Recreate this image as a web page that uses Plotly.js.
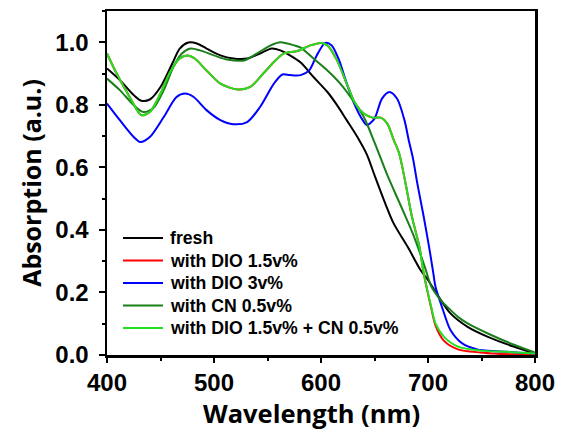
<!DOCTYPE html>
<html>
<head>
<meta charset="utf-8">
<script src="https://cdn.plot.ly/plotly-3.0.1.min.js"></script>
<style>html,body{margin:0;padding:0;background:#fff;}#chart{width:566px;height:429px;}</style>
</head>
<body>
<div id="chart"></div>
<script>
// Series names
const seriesNames = ["fresh", "with DIO 1.5v%", "with DIO 3v%", "with CN 0.5v%", "with DIO 1.5v% + CN 0.5v%"];

// fresh (black)
const wlFresh = [400,412,425,432,440,450,461,468,476,484,493,506,518,531,543,554,562,571,581,593,606,615,624,634,643,650,660,668,681,693,700,710,721,737,756,780,800];
const absFresh = [0.916,0.879,0.831,0.813,0.817,0.857,0.932,0.980,0.999,0.996,0.980,0.958,0.948,0.948,0.964,0.980,0.974,0.958,0.935,0.889,0.841,0.799,0.751,0.697,0.640,0.575,0.485,0.420,0.346,0.272,0.240,0.186,0.133,0.090,0.058,0.027,0.005];

// with DIO 1.5v% (red)
const wlDio15 = [400,409,422,432,440,450,459,468,475,482,493,506,522,534,546,556,565,578,590,600,606,615,624,632,640,648,656,662,668,673,679,685,692,696,703,707,715,728,749,765,780,800];
const absDio15 = [0.964,0.900,0.820,0.767,0.777,0.836,0.905,0.948,0.958,0.948,0.910,0.868,0.849,0.857,0.900,0.937,0.964,0.972,0.990,0.998,0.990,0.942,0.868,0.804,0.772,0.759,0.759,0.740,0.687,0.645,0.549,0.442,0.346,0.261,0.150,0.095,0.045,0.018,0.008,0.004,0.002,0.001];

// with DIO 3v% (blue)
const wlDio3 = [400,412,425,431,440,453,465,473,481,493,506,518,531,543,556,564,571,581,589,596,604,610,617,623,631,639,643,650,657,664,671,678,682,686,690,696,701,705,707,714,721,732,746,765,800];
const absDio3 = [0.804,0.751,0.697,0.681,0.697,0.761,0.825,0.836,0.825,0.783,0.751,0.738,0.745,0.793,0.868,0.897,0.895,0.895,0.910,0.958,0.998,0.990,0.942,0.879,0.804,0.751,0.735,0.756,0.820,0.841,0.820,0.751,0.687,0.628,0.549,0.442,0.346,0.261,0.218,0.144,0.080,0.037,0.018,0.012,0.005];

// with CN 0.5v% (dark green)
const wlCn = [400,412,425,434,443,453,462,470,478,487,500,512,528,540,553,562,575,581,593,606,618,631,640,650,662,675,687,697,703,712,718,728,737,759,781,800];
const absCn = [0.884,0.847,0.799,0.777,0.788,0.847,0.921,0.964,0.980,0.974,0.958,0.945,0.942,0.964,0.990,1.000,0.990,0.983,0.948,0.910,0.868,0.809,0.761,0.680,0.575,0.474,0.378,0.282,0.220,0.175,0.154,0.122,0.101,0.064,0.032,0.008];

// with DIO 1.5v% + CN 0.5v% (light green)
const wlDioCn = [400,409,422,432,440,450,459,468,475,482,493,506,522,534,546,556,565,578,590,600,606,615,624,632,640,648,656,662,668,673,679,685,692,696,703,707,715,728,749,774,800];
const absDioCn = [0.964,0.900,0.820,0.767,0.777,0.836,0.905,0.948,0.958,0.948,0.910,0.868,0.849,0.857,0.900,0.937,0.964,0.972,0.990,0.998,0.990,0.942,0.868,0.804,0.772,0.759,0.759,0.740,0.687,0.645,0.549,0.442,0.346,0.261,0.154,0.101,0.058,0.027,0.014,0.010,0.005];

const colors = ["#000000", "#ff0000", "#0000ff", "#1a7f1a", "#22e022"];
const xs = [wlFresh, wlDio15, wlDio3, wlCn, wlDioCn];
const ys = [absFresh, absDio15, absDio3, absCn, absDioCn];

const traces = seriesNames.map((n, i) => ({
  x: xs[i], y: ys[i], name: n, type: "scatter", mode: "lines",
  line: {color: colors[i], width: 2, shape: "spline", smoothing: 0.8}
}));

// geometry (pixels) for converting to paper coords
const W = 566, H = 429, ML = 107, MR = 31, MT = 11, MB = 74;
const PW = W - ML - MR, PH = H - MT - MB;
const px = (x) => (x - ML) / PW;
const py = (y) => (H - MB - y) / PH;

// manual legend (tight row spacing like the reference)
const legendFont = {family: "Liberation Sans, Arial, sans-serif", size: 17.7, color: "#000", weight: "bold"};
const shapes = [];
const annotations = [];
seriesNames.forEach((n, i) => {
  const rowY = 238 + i * 22.5;
  shapes.push({type: "line", xref: "paper", yref: "paper",
    x0: px(123), x1: px(163), y0: py(rowY), y1: py(rowY),
    line: {color: colors[i], width: 2}});
  annotations.push({xref: "paper", yref: "paper", x: px(168), y: py(rowY),
    xanchor: "left", yanchor: "middle", text: n, showarrow: false, font: legendFont});
});

// x title as annotation (slightly left of centre, like the reference)
annotations.push({xref: "paper", yref: "paper", x: px(311), y: py(412.5),
  xanchor: "center", yanchor: "middle", text: "Wavelength (nm)", showarrow: false, borderpad: 0,
  font: {family: "Open Sans, sans-serif", size: 25.5, color: "#000", weight: "bold"}});

const tickFont = {family: "Liberation Sans, Arial, sans-serif", size: 24, color: "#000", weight: "bold"};

const layout = {
  width: W, height: H,
  margin: {l: ML, r: MR, t: MT, b: MB},
  paper_bgcolor: "#fff", plot_bgcolor: "#fff",
  showlegend: false,
  shapes: shapes,
  annotations: annotations,
  xaxis: {
    range: [400, 800], dtick: 100, tick0: 400,
    showline: true, linewidth: 2.5, linecolor: "#000", mirror: true,
    ticks: "outside", ticklen: 5, tickwidth: 2, tickcolor: "#000",
    minor: {dtick: 50, ticks: "outside", ticklen: 3, tickwidth: 2, tickcolor: "#000"},
    showgrid: false, zeroline: false,
    tickfont: tickFont
  },
  yaxis: {
    range: [0, 1.1], dtick: 0.2, tick0: 0, tickformat: ".1f",
    showline: true, linewidth: 2.5, linecolor: "#000", mirror: true,
    ticks: "outside", ticklen: 6, tickwidth: 2, tickcolor: "#000",
    minor: {dtick: 0.1, ticks: "outside", ticklen: 3, tickwidth: 2, tickcolor: "#000"},
    showgrid: false, zeroline: false,
    tickfont: tickFont, ticklabelstandoff: 5,
    title: {text: "Absorption (a.u.)", font: {family: "Open Sans, sans-serif", size: 25, color: "#000", weight: "bold"}, standoff: 7}
  }
};

Plotly.newPlot("chart", traces, layout, {staticPlot: true, displayModeBar: false});
</script>
</body>
</html>
